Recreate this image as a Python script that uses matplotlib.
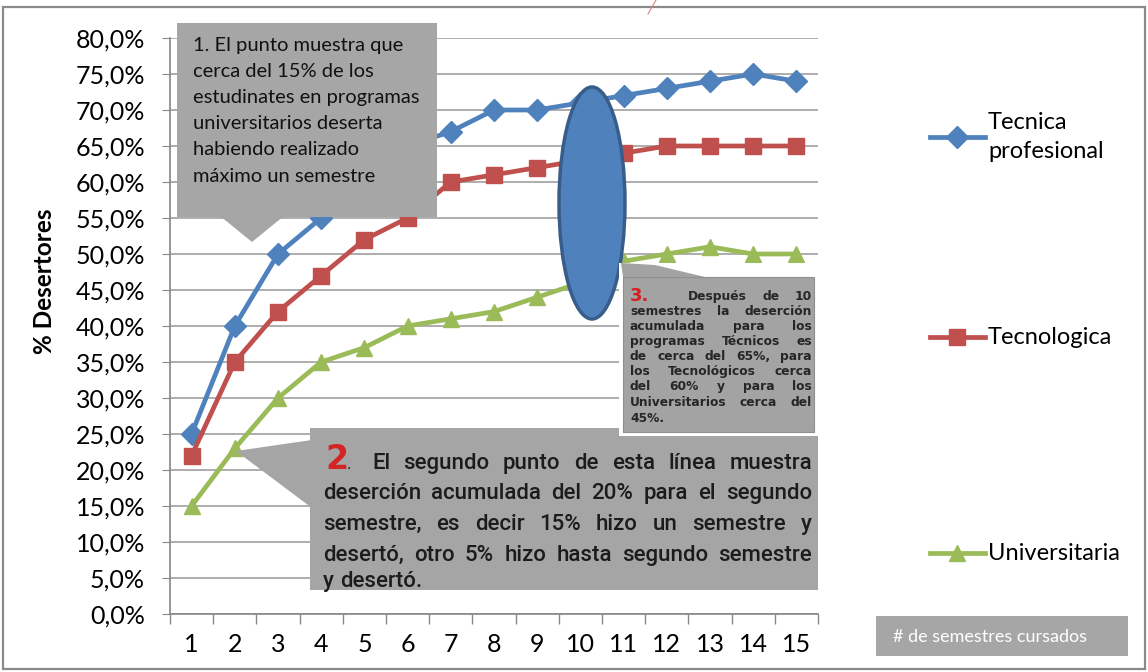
import matplotlib
matplotlib.use("Agg")
import matplotlib.pyplot as plt
from matplotlib.patches import Rectangle, Polygon, Ellipse
from matplotlib.lines import Line2D
from matplotlib.ticker import FuncFormatter, MultipleLocator, FixedLocator
import numpy as np

semestres = list(range(1, 16))
tecnica = [25, 40, 50, 55, 60, 65, 67, 70, 70, 71, 72, 73, 74, 75, 74]
tecnologica = [22, 35, 42, 47, 52, 55, 60, 61, 62, 63, 64, 65, 65, 65, 65]
universitaria = [15, 23, 30, 35, 37, 40, 41, 42, 44, 46, 49, 50, 51, 50, 50]
series_names = ["Tecnica\nprofesional", "Tecnologica", "Universitaria"]
ylabel = "% Desertores"
xlabel = "# de semestres cursados"

box1_lines = ["1. El punto muestra que", "cerca del 15% de los",
              "estudinates en programas", "universitarios deserta",
              "habiendo realizado", "máximo un semestre"]
box2_lines = ["El segundo punto de esta línea muestra",
              "deserción acumulada del 20% para el segundo",
              "semestre, es decir 15% hizo un semestre y",
              "desertó, otro 5% hizo hasta segundo semestre",
              "y desertó."]
box3_lines = ["Después de 10", "semestres la deserción", "acumulada para los",
              "programas Técnicos es", "de cerca del 65%, para",
              "los Tecnológicos cerca", "del 60% y para los",
              "Universitarios cerca del", "45%."]

BLUE, RED, GREEN = "#4f81bd", "#c0504d", "#9bbb59"
W, H = 1148, 672
FONT = "Lato"

fig = plt.figure(figsize=(W / 100, H / 100), dpi=100)
fig.patch.set_facecolor("white")

ax = fig.add_axes([170 / W, 58 / H, (818 - 170) / W, (614 - 38) / H])
ax.set_xlim(0.5, 15.5)
ax.set_ylim(0, 80)
ax.yaxis.set_major_locator(MultipleLocator(5))
ax.yaxis.set_major_formatter(FuncFormatter(lambda v, p: f"{v:.1f}%".replace(".", ",")))
ax.set_xticks(semestres)
ax.set_xticklabels([str(s) for s in semestres])
ax.xaxis.set_minor_locator(FixedLocator(np.arange(0.5, 16, 1)))
ax.tick_params(axis="x", which="major", length=0, labelsize=18, pad=14)
ax.tick_params(axis="x", which="minor", length=7, color="#868686", width=1)
ax.tick_params(axis="y", length=6, color="#868686", labelsize=18, pad=12)
for lab in ax.get_xticklabels() + ax.get_yticklabels():
    lab.set_fontfamily(FONT)
ax.grid(axis="y", color="#a0a0a0", lw=1.2)
ax.set_axisbelow(True)
for s in ["top", "right"]:
    ax.spines[s].set_visible(False)
for s in ["left", "bottom"]:
    ax.spines[s].set_color("#868686")
    ax.spines[s].set_linewidth(1.2)
ax.set_ylabel(ylabel, fontsize=17.5, fontweight="bold", fontfamily=FONT)
ax.yaxis.set_label_coords(-0.176, 0.578)

styles = [(tecnica, BLUE, "D", 11), (tecnologica, RED, "s", 11), (universitaria, GREEN, "^", 12)]
for vals, c, m, ms in styles:
    ax.plot(semestres, vals, color=c, lw=3.4, marker=m, markersize=ms,
            markeredgecolor=c, solid_joinstyle="round")

# overlay in pixel coordinates
ov = fig.add_axes([0, 0, 1, 1], zorder=5)
ov.set_xlim(0, W)
ov.set_ylim(H, 0)
ov.axis("off")
ov.patch.set_alpha(0)

# outer frame
ov.add_patch(Rectangle((3, 7), W - 6, H - 10, fill=False, ec="#8a8a8a", lw=1.6))
ov.plot([656, 648], [0, 14], color="#e08080", lw=0.8)

# legend (manual)
leg_y = [137, 337, 553]
for (vals, c, m, ms), ly, name in zip(styles, leg_y, series_names):
    ov.add_line(Line2D([930, 985], [ly, ly], color=c, lw=3.4))
    ov.plot([957], [ly], marker=m, color=c, markersize=ms, markeredgecolor=c)
    ov.text(988, ly, name, fontsize=17, fontfamily=FONT, va="center", ha="left",
            linespacing=1.5)

# x label box
ov.add_patch(Rectangle((876, 616), 252, 40, fc="#a6a6a6", ec="none"))
ov.text(893, 637, xlabel, color="white", fontsize=13, fontfamily=FONT, va="center", ha="left")

# ellipse
ov.add_patch(Ellipse((592, 203), 66, 232, fc=BLUE, ec="#385d8a", lw=2.5))

# box 1
ov.add_patch(Rectangle((177, 23), 260, 194, fc="#a6a6a6", ec="none"))
ov.add_patch(Polygon([(220, 216), (284, 216), (252, 242)], closed=True, fc="#a6a6a6", ec="none"))
for i, line in enumerate(box1_lines):
    ov.text(193, 45 + i * 26.2, line, fontsize=14.5, fontfamily=FONT, va="center", ha="left",
            color="#111111")

fig.canvas.draw()
renderer = fig.canvas.get_renderer()


def width_of(t):
    return t.get_window_extent(renderer).width


def place_line(words, x0, x1, y, justify, props, space=None):
    objs = [ov.text(0, y, w, va="baseline", ha="left", **props) for w in words]
    widths = [width_of(o) for o in objs]
    if justify and len(objs) > 1:
        gap = (x1 - x0 - sum(widths)) / (len(objs) - 1)
    else:
        gap = space
    x = x0
    for o, wd in zip(objs, widths):
        o.set_x(x)
        x += wd + gap


# box 2
ov.add_patch(Rectangle((310, 428), 508, 162, fc="#a5a5a5", ec="none"))
ov.add_patch(Polygon([(236, 451), (312, 440), (312, 508)], closed=True, fc="#a5a5a5", ec="none"))
p2 = dict(fontsize=16, fontfamily=["Roboto"], fontweight="medium", color="#1c1c1c")
b2_base = [469, 499, 530, 561, 587]
ov.text(325, 469, "2", va="baseline", ha="left", color="#d42424", fontsize=24,
        fontweight="bold", fontfamily=["DejaVu Sans"])
ov.text(347, 469, ".", va="baseline", ha="left", color="#1c1c1c", fontsize=10)
for i, line in enumerate(box2_lines):
    words = line.split()
    x0 = 372 if i == 0 else 323
    place_line(words, x0, 812, b2_base[i], i < len(box2_lines) - 1, p2, space=6)

# box 3
ov.add_patch(Rectangle((619, 263), 199, 173, fc="white", ec="none"))
ov.add_patch(Rectangle((623, 277), 191, 155, fc="#a3a3a3", ec="#8f8f8f", lw=0.8))
ov.add_patch(Polygon([(621, 263), (655, 265), (705, 277), (623, 277)], closed=True,
                     fc="#a3a3a3", ec="none"))
p3 = dict(fontsize=8.8, fontfamily=["DejaVu Sans"], fontweight="bold", color="#262626")
b3_base = [300, 315, 330, 345, 360, 375, 390, 406, 422]
ov.text(630, b3_base[0] + 1, "3.", va="baseline", ha="left", color="#d62020",
        fontsize=13, fontweight="bold", fontfamily=["DejaVu Sans"])
for i, line in enumerate(box3_lines):
    words = line.split()
    x0 = 688 if i == 0 else 630
    place_line(words, x0, 812, b3_base[i], i < len(box3_lines) - 1, p3, space=4)

fig.savefig("out.png", dpi=100)
